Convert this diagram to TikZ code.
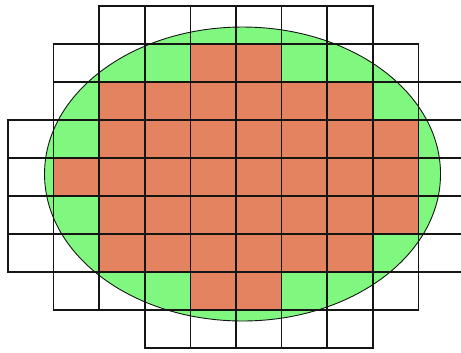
\documentclass[tikz,border=0pt]{standalone}
\usepackage{xcolor}
\definecolor{gdArea}{HTML}{80F880}
\definecolor{gdCell}{HTML}{E4835F}
\definecolor{gdInk}{HTML}{151515}
\tikzset{
  gd grid/.style={draw=gdInk, line width=1.5pt},
  gd area/.style={fill=gdArea, draw=gdInk, line width=0.9pt},
  gd cell/.style={fill=gdCell}
}
\begin{document}
\begin{tikzpicture}[x=45.6pt,y=-38pt]
\useasboundingbox[fill=white] (-0.1754,-0.158) rectangle (9.934,9.105);
% the region to be covered
\draw[gd area] (5.143,4.421) ellipse [x radius=4.342, y radius=3.868];
% cells lying fully inside
\foreach \r/\a/\b in {1/4/5,2/2/7,3/2/8,4/1/8,5/2/8,6/2/7,7/4/5}
  \fill[gd cell] (\a,\r) rectangle (\b+1,\r+1);
% grid, row by row
\foreach \r/\a/\b in {0/2/7,1/1/8,2/1/9,3/0/9,4/0/9,5/0/9,6/0/9,7/1/8,8/3/7}
  \foreach \c in {\a,...,\b}
    \draw[gd grid] (\c,\r) rectangle ++(1,1);
\end{tikzpicture}
\end{document}
